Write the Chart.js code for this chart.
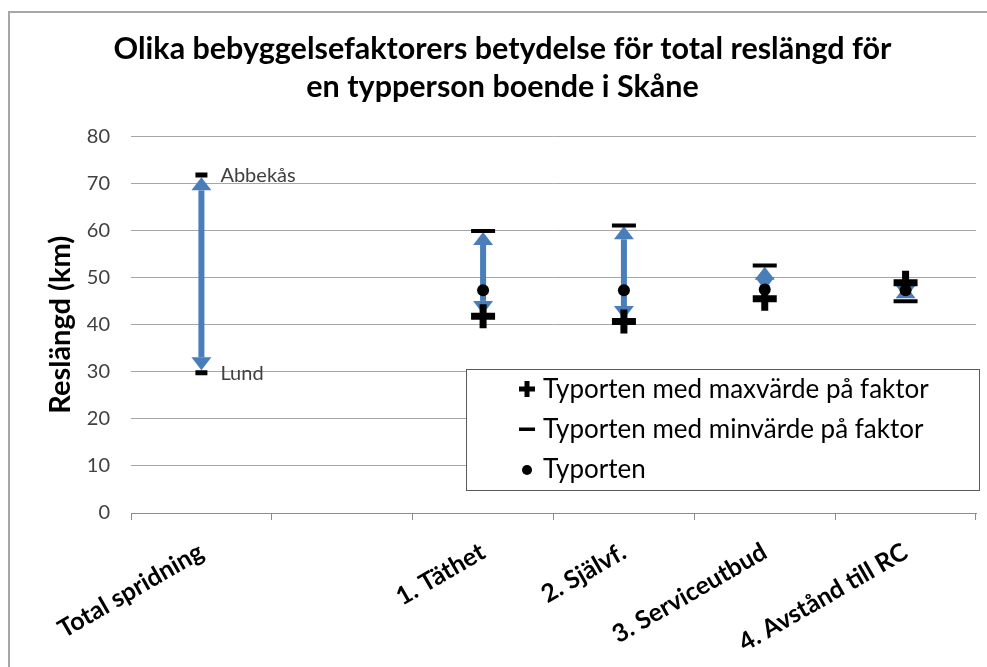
<!DOCTYPE html>
<html lang="sv">
<head>
<meta charset="UTF-8">
<title>Reslängd</title>
<script src="https://cdn.jsdelivr.net/npm/chart.js@4.4.1/dist/chart.umd.min.js"></script>
<style>
  body { margin: 0; background: #fff; }
  #wrap { position: relative; width: 987px; height: 667px; overflow: hidden; }
  #frame { position: absolute; left: 8px; top: 11px; width: 1000px; height: 700px; border: 2px solid #a6a6a6; }
  #chart { position: absolute; left: 0; top: 0; }
</style>
</head>
<body>
<div id="wrap">
  <div id="frame"></div>
  <canvas id="chart" width="987" height="667"></canvas>
</div>
<script>
const categories = ['Total spridning', '', '1. Täthet', '2. Självf.', '3. Serviceutbud', '4. Avstånd till RC'];
const maxFaktor = [null, null, 41.8, 40.7, 45.5, 48.9];
const minFaktor = [null, null, 59.9, 61.1, 52.6, 45.0];
const typorten = [null, null, 47.3, 47.3, 47.5, 47.3];
const ytterNamn = ['Abbekås', 'Lund'];
const ytterVarde = [71.8, 29.8];
// blå pilar, från lägsta till högsta värde
const pilLag = [30.3, null, 42.3, 41.2, 47.4, 45.6];
const pilHog = [71.3, null, 59.7, 60.9, 52.3, 48.4];

const FONT = 'Lato';

// pilar ritas under punkterna
const pilPlugin = {
  id: 'pilar',
  beforeDatasetsDraw(chart) {
    const ctx = chart.ctx, xs = chart.scales.x, ys = chart.scales.y;
    ctx.save();
    ctx.fillStyle = '#4a7ebb';
    pilLag.forEach((lo, i) => {
      if (lo == null) return;
      const px = xs.getPixelForValue(i);
      const yLo = ys.getPixelForValue(lo);
      const yHi = ys.getPixelForValue(pilHog[i]);
      const head = 13, hw = 10, sw = 3;
      if (yLo - yHi > 2 * head) {
        ctx.fillRect(px - sw, yHi + head, sw * 2, yLo - yHi - 2 * head);
      }
      ctx.beginPath();
      ctx.moveTo(px, yHi); ctx.lineTo(px + hw, yHi + head); ctx.lineTo(px - hw, yHi + head); ctx.closePath();
      ctx.fill();
      ctx.beginPath();
      ctx.moveTo(px, yLo); ctx.lineTo(px + hw, yLo - head); ctx.lineTo(px - hw, yLo - head); ctx.closePath();
      ctx.fill();
    });
    ctx.restore();
  }
};

// namn vid ytterlägena
const namnPlugin = {
  id: 'namn',
  afterDatasetsDraw(chart) {
    const ctx = chart.ctx, xs = chart.scales.x, ys = chart.scales.y;
    ctx.save();
    ctx.font = '20px ' + FONT;
    ctx.fillStyle = '#404040';
    ctx.textBaseline = 'middle';
    ytterNamn.forEach((n, i) => {
      ctx.fillText(n, xs.getPixelForValue(0) + 19, ys.getPixelForValue(ytterVarde[i]) + 1);
    });
    ctx.restore();
  }
};

// förklaringsruta
const rutaPlugin = {
  id: 'ruta',
  afterDraw(chart) {
    const ctx = chart.ctx;
    const left = 466, top = 369, w = 513, h = 121;
    ctx.save();
    ctx.fillStyle = '#fff';
    ctx.fillRect(left, top, w, h);
    ctx.strokeStyle = '#595959';
    ctx.lineWidth = 1;
    ctx.strokeRect(left + 0.5, top + 0.5, w, h);
    ctx.font = '26px ' + FONT;
    ctx.textBaseline = 'middle';
    const items = chart.data.datasets.filter(d => !d.dold);
    items.forEach((d, i) => {
      const cy = top + 20 + i * 40, cx = 527;
      ctx.fillStyle = '#000';
      if (d.pointStyle === 'cross') {
        ctx.fillRect(cx - 8, cy - 2.5, 16, 5);
        ctx.fillRect(cx - 2.5, cy - 8, 5, 16);
      } else if (d.pointStyle === 'line') {
        ctx.fillRect(cx - 8, cy - 1.5, 16, 3.5);
      } else {
        ctx.beginPath(); ctx.arc(cx, cy + 1, 5, 0, Math.PI * 2); ctx.fill();
      }
      ctx.fillText(d.label, 543, cy + 1);
    });
    ctx.restore();
  }
};

const datasets = [
  { label: 'Typorten med maxvärde på faktor', data: maxFaktor, pointStyle: 'cross', pointRadius: 12, pointBorderWidth: 7 },
  { label: 'Typorten med minvärde på faktor', data: minFaktor, pointStyle: 'line', pointRadius: 12, pointBorderWidth: 4 },
  { label: 'Typorten', data: typorten, pointStyle: 'circle', pointRadius: 6, pointBorderWidth: 0 }
];
ytterNamn.forEach((n, i) => {
  datasets.push({ label: n, dold: true, data: categories.map((c, j) => j === 0 ? ytterVarde[i] : null),
    pointStyle: 'line', pointRadius: 6, pointBorderWidth: 5 });
});
datasets.forEach(d => {
  d.showLine = false;
  d.pointBackgroundColor = '#000';
  d.pointBorderColor = '#000';
});
datasets[0].order = 1; datasets[1].order = 2; datasets[2].order = 3;

new Chart('chart', {
  type: 'line',
  data: { labels: categories, datasets: datasets },
  options: {
    responsive: false,
    animation: false,
    layout: { autoPadding: false, padding: { left: 18, right: 0, top: 0, bottom: 0 } },
    plugins: {
      legend: { display: false },
      tooltip: { enabled: false },
      title: {
        display: true,
        text: ['Olika bebyggelsefaktorers betydelse för total reslängd för', 'en typperson boende i Skåne'],
        color: '#000',
        font: { family: FONT, size: 30.5, weight: 'bold', lineHeight: 1.22 },
        padding: { top: 31, bottom: 31 }
      }
    },
    scales: {
      x: {
        offset: true,
        grid: { offset: true, drawOnChartArea: false, tickLength: 7, color: '#8c8c8c' },
        border: { color: '#8c8c8c' },
        ticks: { autoSkip: false, maxRotation: 30, minRotation: 30, padding: 17, color: '#000',
          font: { family: FONT, size: 25, weight: 'bold' } },
        afterFit(s) { s.height = 154; s.paddingLeft = 0; s.paddingRight = 11; }
      },
      y: {
        min: 0, max: 80,
        grid: { color: '#a6a6a6', drawTicks: false },
        border: { display: false },
        ticks: { stepSize: 10, padding: 21, color: '#404040', font: { family: FONT, size: 20 } },
        title: { display: true, text: 'Reslängd (km)', color: '#000',
          font: { family: FONT, size: 29, weight: 'bold' }, padding: { top: 25, bottom: 0 } },
        afterFit(s) { s.width = 113; }
      }
    }
  },
  plugins: [pilPlugin, namnPlugin, rutaPlugin]
});
</script>
</body>
</html>
